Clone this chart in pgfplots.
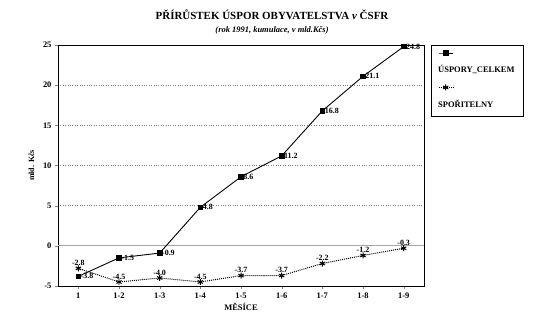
\documentclass[border=0pt]{standalone}
\usepackage{pgfplots}
\pgfplotsset{compat=1.18}
\usepackage{fontspec}
\setmainfont{Liberation Serif}
\begin{document}
\begin{tikzpicture}[x=1bp,y=1bp]
\path[use as bounding box] (-58,-38) rectangle (492,286);
\begin{axis}[
  scale only axis, width=366bp, height=241bp,
  xmin=0.5, xmax=9.5, ymin=-5, ymax=25,
  xtick={1,...,9},
  xticklabels={1,1-2,1-3,1-4,1-5,1-6,1-7,1-8,1-9},
  ytick={-5,5,10,15,20,25},
  extra y ticks={0},
  extra y tick style={grid=major, major grid style={solid, gray!70, line width=0.8pt}},
  ymajorgrids, major grid style={dotted, gray, line width=0.7pt},
  tick align=outside, tick pos=left,
  major tick length=3bp,
  axis line style={line width=0.8pt},
  tick label style={font=\bfseries\fontsize{8.5}{9}\selectfont},
  /pgf/number format/assume math mode=true,
  xlabel={\bfseries MĚSÍCE}, xlabel style={font=\fontsize{8.5}{9}\selectfont, yshift=2bp},
  ylabel={\bfseries mld. Kčs}, ylabel style={font=\fontsize{8}{9}\selectfont, yshift=-4bp},
  legend style={at={(1.019,1)}, anchor=north west, draw=black, line width=0.5pt,
    font=\bfseries\fontsize{8.5}{10}\selectfont, cells={anchor=west}, row sep=8bp,
    column sep=-17bp, inner xsep=7bp, inner ysep=5bp},
  legend image code/.code={\draw[mark repeat=2,mark phase=2] plot coordinates {(0bp,0bp)(7bp,0bp)(14bp,0bp)};},
  legend cell align=left,
  nodes near coords, point meta=explicit symbolic,
  every node near coord/.append style={font=\bfseries\fontsize{8}{9}\selectfont, inner sep=1bp},
]
\addplot[forget plot, black, line width=0.9pt, mark=square*, mark size=2.3bp, mark options={solid},
  every node near coord/.append style={anchor=west, xshift=1bp}]
  coordinates {(1,-3.8)[-3.8] (2,-1.5)[-1.5] (3,-0.9)[-0.9] (4,4.8)[4.8] (5,8.6)[8.6]
   (6,11.2)[11.2] (7,16.8)[16.8] (8,21.1)[21.1] (9,24.8)[24.8]};
\addplot[forget plot, black, line width=1pt, densely dotted, mark=asterisk, mark size=3bp, mark options={solid},
  every node near coord/.append style={anchor=south, yshift=1bp}]
  coordinates {(1,-2.8)[-2.8] (2,-4.5)[-4.5] (3,-4.0)[-4.0] (4,-4.5)[-4.5] (5,-3.7)[-3.7]
   (6,-3.7)[-3.7] (7,-2.2)[-2.2] (8,-1.2)[-1.2] (9,-0.3)[-0.3]};
\addlegendimage{black, line width=0.9pt, mark=square*, mark size=2.3bp}
\addlegendentry{}
\addlegendimage{empty legend}
\addlegendentry{ÚSPORY\_CELKEM}
\addlegendimage{black, line width=1pt, densely dotted, mark=asterisk, mark size=3bp, mark options={solid}}
\addlegendentry{}
\addlegendimage{empty legend}
\addlegendentry{SPOŘITELNY}
\end{axis}
\node[font=\bfseries\fontsize{11}{12}\selectfont] at (214,271) {PŘÍRŮSTEK ÚSPOR OBYVATELSTVA \textit{v} ČSFR};
\node[font=\bfseries\itshape\fontsize{8.5}{10}\selectfont] at (214,256) {(rok 1991, kumulace, v mld.Kčs)};
\end{tikzpicture}
\end{document}
